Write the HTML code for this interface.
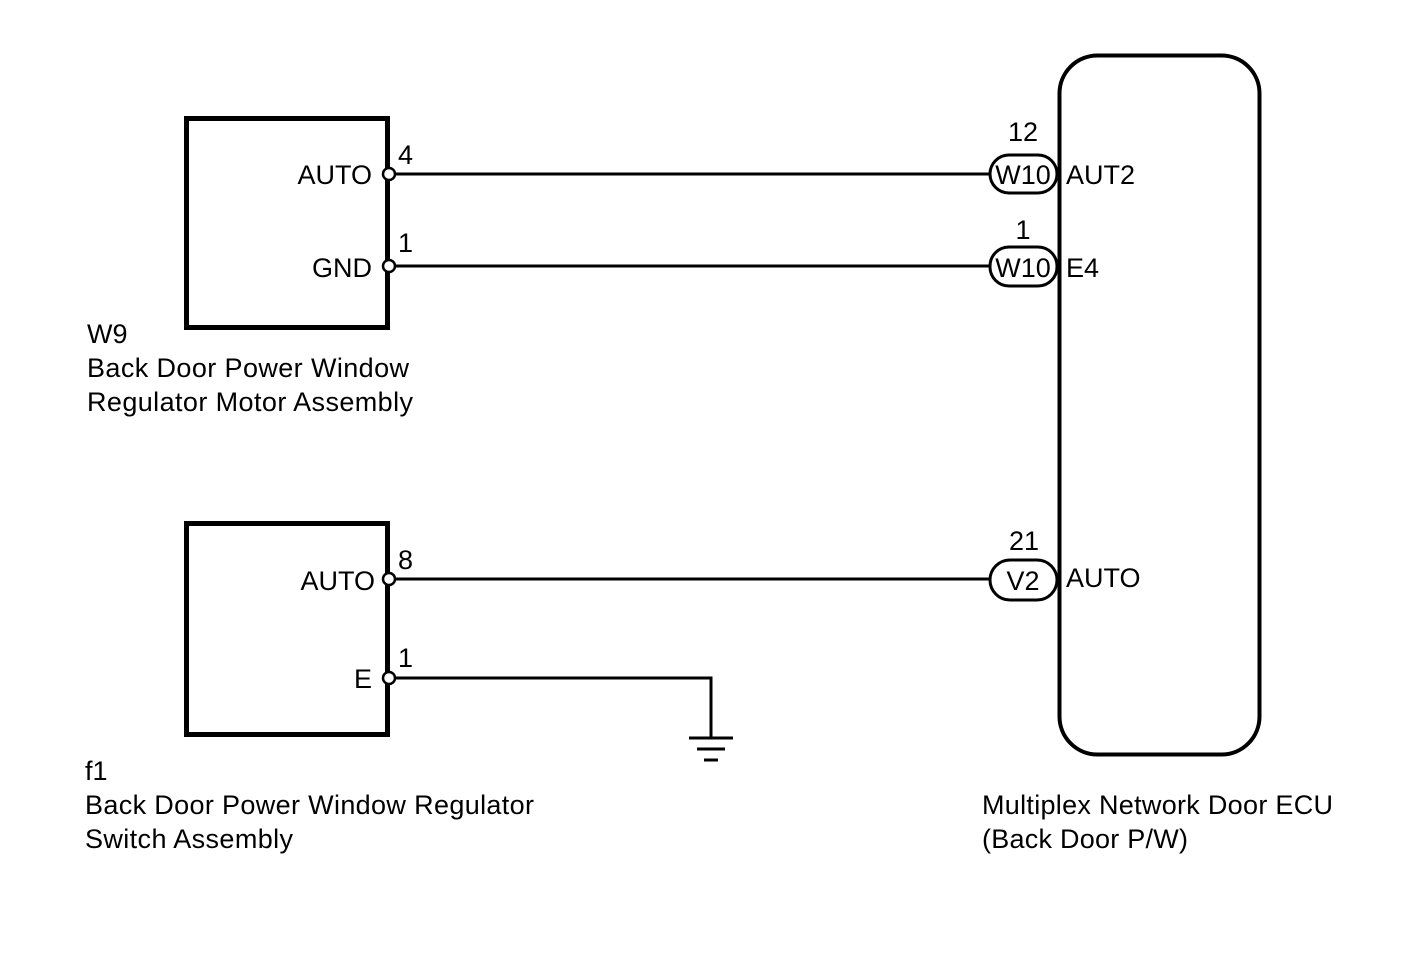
<!DOCTYPE html>
<html><head><meta charset="utf-8"><style>
html,body{margin:0;padding:0;background:#fff;}
svg{display:block;}
text{font-family:"Liberation Sans",Arial,sans-serif;font-size:27px;fill:#000;}
</style></head><body>
<svg width="1424" height="959" viewBox="0 0 1424 959" xmlns="http://www.w3.org/2000/svg">
<g fill="none" stroke="#000">
<rect x="186.5" y="118.5" width="201" height="209" stroke-width="5"/>
<rect x="186.5" y="523.5" width="201" height="211" stroke-width="5"/>
<rect x="1059.5" y="55.5" width="200" height="699" rx="38" stroke-width="4"/>
<line x1="395" y1="174" x2="990" y2="174" stroke-width="3"/>
<line x1="395" y1="266" x2="990" y2="266" stroke-width="3"/>
<line x1="395" y1="579" x2="990" y2="579" stroke-width="3"/>
<polyline points="395,678 711,678 711,738" stroke-width="3"/>
<line x1="689" y1="738" x2="733" y2="738" stroke-width="3"/>
<line x1="697" y1="749" x2="725" y2="749" stroke-width="3"/>
<line x1="704" y1="760" x2="718" y2="760" stroke-width="3"/>
<rect x="990" y="155" width="67" height="38" rx="19" stroke-width="3"/>
<rect x="990" y="247" width="67" height="39" rx="19" stroke-width="3"/>
<rect x="990" y="560" width="67" height="40" rx="20" stroke-width="3"/>
</g>
<g fill="#fff" stroke="#000" stroke-width="2.5">
<circle cx="389" cy="174" r="6"/>
<circle cx="389" cy="266" r="6"/>
<circle cx="389" cy="579" r="6"/>
<circle cx="389" cy="678" r="6"/>
</g>
<text x="372" y="184" text-anchor="end">AUTO</text>
<text x="372" y="277" text-anchor="end">GND</text>
<text x="375" y="590" text-anchor="end">AUTO</text>
<text x="372" y="688" text-anchor="end">E</text>
<text x="398" y="164">4</text>
<text x="398" y="252">1</text>
<text x="398" y="569">8</text>
<text x="398" y="667">1</text>
<text x="1023" y="141" text-anchor="middle">12</text>
<text x="1023" y="239" text-anchor="middle">1</text>
<text x="1024" y="550" text-anchor="middle">21</text>
<text x="1023" y="184" text-anchor="middle">W10</text>
<text x="1023" y="277" text-anchor="middle">W10</text>
<text x="1023" y="590" text-anchor="middle">V2</text>
<text x="1066" y="184">AUT2</text>
<text x="1066" y="277">E4</text>
<text x="1066" y="587">AUTO</text>
<text x="87" y="343">W9</text>
<text x="87" y="377" textLength="322">Back Door Power Window</text>
<text x="87" y="411" textLength="326">Regulator Motor Assembly</text>
<text x="85" y="780">f1</text>
<text x="85" y="814" textLength="449">Back Door Power Window Regulator</text>
<text x="85" y="848" textLength="208">Switch Assembly</text>
<text x="982" y="814" textLength="351">Multiplex Network Door ECU</text>
<text x="982" y="848" textLength="206">(Back Door P/W)</text>
</svg>
</body></html>
